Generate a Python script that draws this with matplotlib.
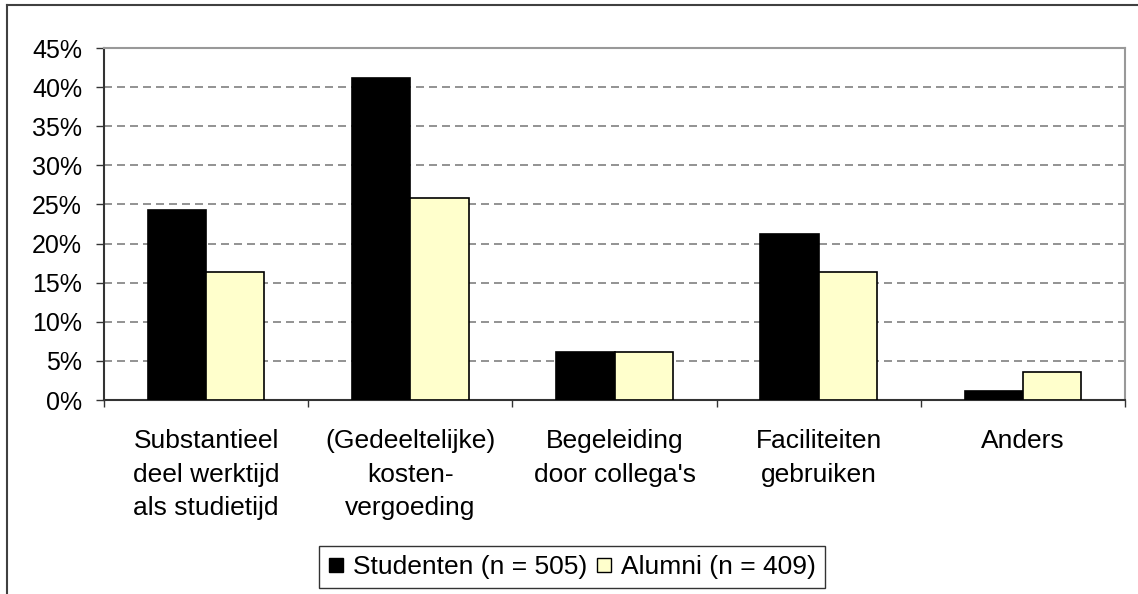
import numpy as np
import matplotlib
matplotlib.use("Agg")
import matplotlib.pyplot as plt
from matplotlib.lines import Line2D

plt.rcParams["font.family"] = ["Liberation Sans", "DejaVu Sans"]

categories = [
    "Substantieel\ndeel werktijd\nals studietijd",
    "(Gedeeltelijke)\nkosten-\nvergoeding",
    "Begeleiding\ndoor collega's",
    "Faciliteiten\ngebruiken",
    "Anders",
]
studenten = [24.3, 41.2, 6.2, 21.2, 1.1]
alumni = [16.3, 25.8, 6.1, 16.3, 3.6]
series_labels = ["Studenten (n = 505)", "Alumni (n = 409)"]
yticks = [0, 5, 10, 15, 20, 25, 30, 35, 40, 45]

fig = plt.figure(figsize=(11.38, 5.94), dpi=100)
ax = fig.add_axes([104 / 1138, 1 - 400 / 594, (1125 - 104) / 1138, (400 - 48) / 594])

x = np.arange(len(categories))
w = 1 / 3.5
ax.bar(x - w / 2, studenten, w, color="black", edgecolor="black", linewidth=1.2, zorder=3)
ax.bar(x + w / 2, alumni, w, color="#FFFFCC", edgecolor="black", linewidth=1.2, zorder=3)

ax.set_xlim(-0.5, len(categories) - 0.5)
ax.set_ylim(0, 45)
ax.set_yticks(yticks)
ax.set_yticklabels([f"{v}%" for v in yticks])
ax.yaxis.grid(True, color="#808080", linewidth=1.2, linestyle=(0, (4.8, 3.0)), zorder=1)
ax.set_axisbelow(True)

ax.set_xticks(x)
ax.set_xticklabels(categories, linespacing=1.5)
ax.set_xticks(np.arange(len(categories) + 1) - 0.5, minor=True)
ax.tick_params(axis="x", which="major", length=0, pad=21, labelsize=19)
ax.tick_params(axis="x", which="minor", length=5, width=1, color="#333333", direction="out")
ax.tick_params(axis="y", length=5.8, width=1, color="#333333", direction="out", pad=10, labelsize=18)

for side in ["left", "bottom"]:
    ax.spines[side].set_color("#333333")
    ax.spines[side].set_linewidth(1.5)
for side in ["top", "right"]:
    ax.spines[side].set_color("#999999")
    ax.spines[side].set_linewidth(1.5)

# outer chart border
fig.add_artist(Line2D([7 / 1138, 1], [1 - 5 / 594, 1 - 5 / 594], color="#404040", lw=1.5))
fig.add_artist(Line2D([7 / 1138, 7 / 1138], [0, 1 - 5 / 594], color="#404040", lw=1.5))

handles = [
    Line2D([], [], marker="s", linestyle="none", markersize=10, markerfacecolor="black",
           markeredgecolor="black"),
    Line2D([], [], marker="s", linestyle="none", markersize=10, markerfacecolor="#FFFFCC",
           markeredgecolor="black"),
]
leg = fig.legend(handles, series_labels, loc="upper center", bbox_to_anchor=(572 / 1138, 1 - 546 / 594),
                 ncol=2, fontsize=19, frameon=True, fancybox=False, edgecolor="black",
                 handlelength=0.6, handletextpad=0.35, columnspacing=0.3, borderpad=0.35,
                 borderaxespad=0)
leg.get_frame().set_linewidth(1.0)

fig.savefig("out.png", dpi=100)
